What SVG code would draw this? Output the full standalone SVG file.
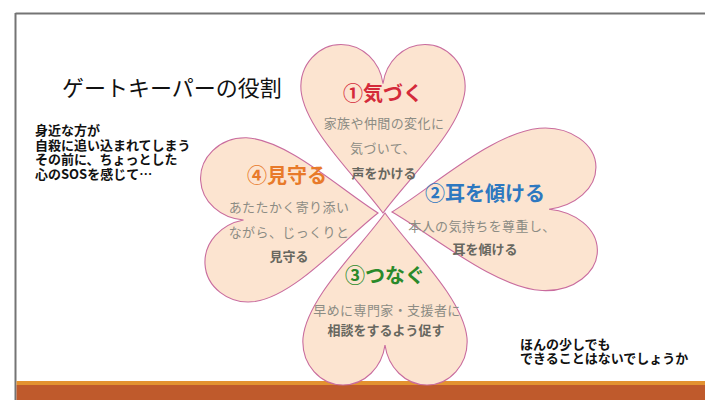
<svg xmlns="http://www.w3.org/2000/svg" xmlns:xlink="http://www.w3.org/1999/xlink" width="705" height="400" viewBox="0 0 705 400">
<style>
.t{font-family:"Noto Sans CJK JP","Noto Sans CJK SC",sans-serif}
.hf{fill:#fce4d0;stroke:none}
.ho{fill:none;stroke:#c96c9e;stroke-width:1.1}
.head{font-size:20px;font-weight:bold;text-anchor:middle}
.sub{font-size:13px;fill:#8c8c84;text-anchor:middle;letter-spacing:0.4px}
.em{font-size:13px;font-weight:bold;fill:#67675f;text-anchor:middle}
.side{font-size:13px;font-weight:bold;fill:#111}
</style>
<defs>
<path id="heart" vector-effect="non-scaling-stroke" d="M0,0 C25,35 78,85 82,125 C84,152 64,172 42,172 C20,172 3,154 0,132 C-3,154 -20,172 -42,172 C-64,172 -84,152 -82,125 C-78,85 -25,35 0,0 Z"/>
</defs>
<rect x="0" y="0" width="705" height="400" fill="#ffffff"/>
<g id="frame">
<line x1="15.5" y1="13.5" x2="705" y2="13.5" stroke="#747474" stroke-width="2"/>
<line x1="15.5" y1="13" x2="15.5" y2="400" stroke="#747474" stroke-width="2"/>
<rect x="16.5" y="381" width="688.5" height="4" fill="#e39230"/>
<rect x="16.5" y="385" width="688.5" height="15" fill="#bf5a2c"/>
</g>
<g id="title">
<text class="t" x="62" y="96" font-size="22" fill="#111">ゲートキーパーの役割</text>
</g>
<g id="heart1">
<use xlink:href="#heart" href="#heart" class="hf" transform="translate(383,213) rotate(180) scale(1,0.98)"/>
</g>
<g id="heart2">
<use xlink:href="#heart" href="#heart" class="hf" transform="translate(392,212) rotate(-91) scale(0.99,1.19)"/>
</g>
<g id="heart3">
<use xlink:href="#heart" href="#heart" class="hf" transform="translate(385,213) scale(1,1)"/>
</g>
<g id="heart4">
<use xlink:href="#heart" href="#heart" class="hf" transform="translate(378,213) rotate(87) scale(1,1.02)"/>
</g>
<g id="outlines">
<use xlink:href="#heart" href="#heart" class="ho" transform="translate(383,213) rotate(180) scale(1,0.98)"/>
<use xlink:href="#heart" href="#heart" class="ho" transform="translate(392,212) rotate(-91) scale(0.99,1.19)"/>
<use xlink:href="#heart" href="#heart" class="ho" transform="translate(385,213) scale(1,1)"/>
<use xlink:href="#heart" href="#heart" class="ho" transform="translate(378,213) rotate(87) scale(1,1.02)"/>
</g>
<g id="label1" class="t">
<text class="head" x="383" y="101" fill="#d42a3a">①気づく</text>
<text class="sub" x="384" y="128">家族や仲間の変化に</text>
<text class="sub" x="383" y="153">気づいて、</text>
<text class="em" x="384" y="178">声をかける</text>
</g>
<g id="label2" class="t">
<text class="head" x="485" y="201" fill="#2e78c0">②耳を傾ける</text>
<text class="sub" x="482" y="231">本人の気持ちを尊重し、</text>
<text class="em" x="485" y="254">耳を傾ける</text>
</g>
<g id="label3" class="t">
<text class="head" x="385" y="283" fill="#2a8a2a">③つなぐ</text>
<text class="sub" x="387" y="315">早めに専門家・支援者に</text>
<text class="em" x="386" y="335">相談をするよう促す</text>
</g>
<g id="label4" class="t">
<text class="head" x="287" y="183" fill="#e87a2a">④見守る</text>
<text class="sub" x="289" y="212">あたたかく寄り添い</text>
<text class="sub" x="289" y="237">ながら、じっくりと</text>
<text class="em" x="289" y="261">見守る</text>
</g>
<g id="note-left" class="t">
<text class="side" x="35" y="135">身近な方が</text>
<text class="side" x="35" y="149.5">自殺に追い込まれてしまう</text>
<text class="side" x="35" y="164">その前に、ちょっとした</text>
<text class="side" x="35" y="178.5">心のSOSを感じて…</text>
</g>
<g id="note-right" class="t">
<text class="side" x="520" y="349">ほんの少しでも</text>
<text class="side" x="520" y="363">できることはないでしょうか</text>
</g>
</svg>
